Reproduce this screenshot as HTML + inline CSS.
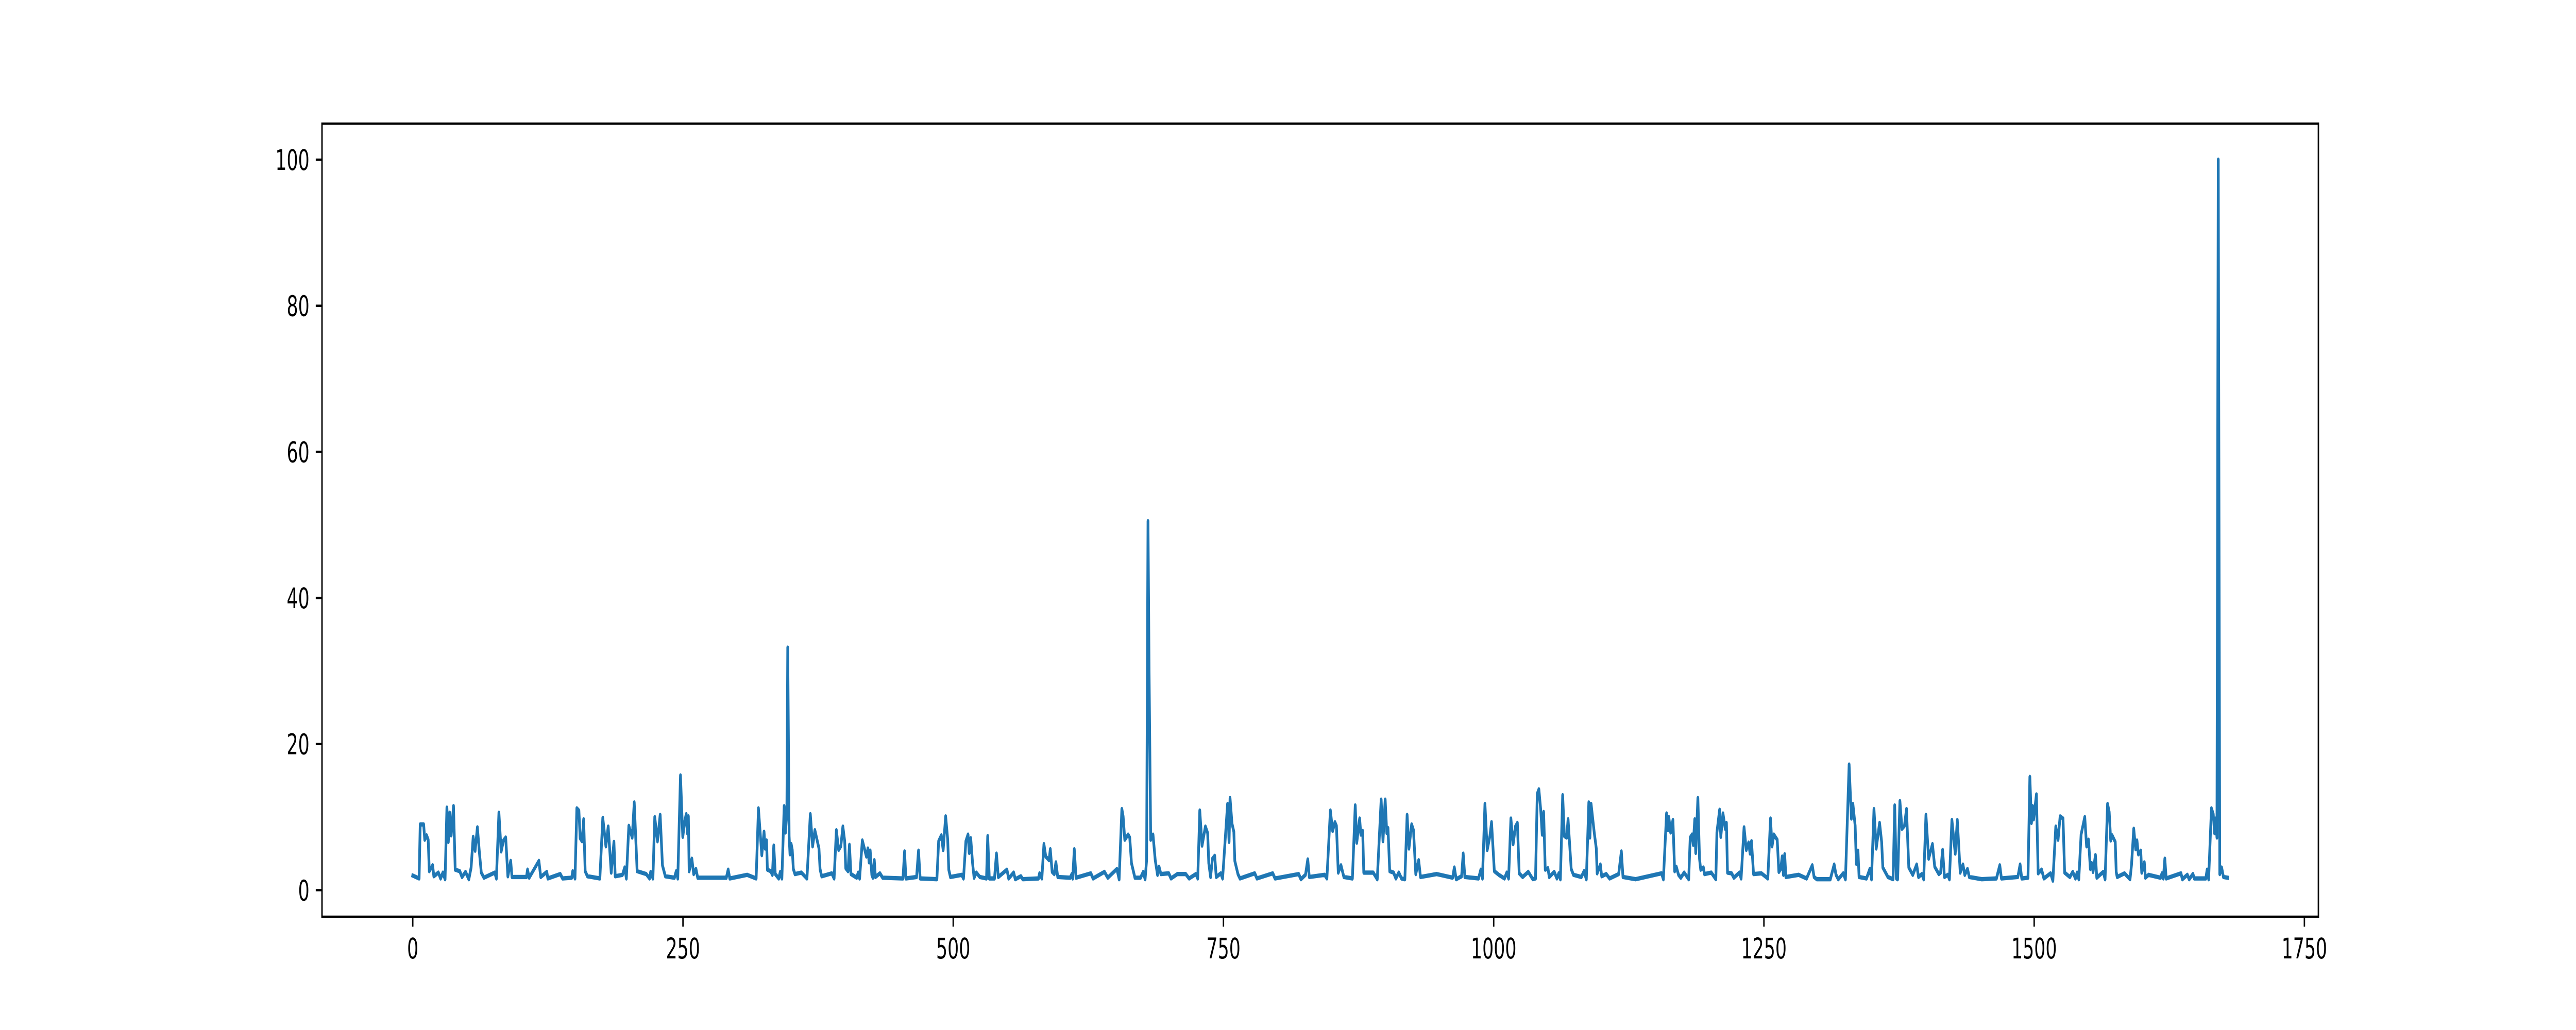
<!DOCTYPE html>
<html>
<head>
<meta charset="utf-8">
<style>
html,body{margin:0;padding:0;background:#fff;overflow:hidden;width:100%;height:100%;}
svg{display:block;width:100vw;height:100vh;}
text{font-family:"DejaVu Sans","Liberation Sans",sans-serif;font-size:55.6px;fill:#000;}
</style>
</head>
<body>
<svg id="chart" viewBox="0 0 8000 2000" preserveAspectRatio="none" xmlns="http://www.w3.org/2000/svg">
<rect x="0" y="0" width="8000" height="2000" fill="#fff"/>
<g id="plot"></g>
</svg>
<script>
// Series sample indices (x) and values (y)
const idx = [0,5.9,6.9,10.1,11.1,12.8,14.3,15.3,18.4,19.5,23.7,25.8,27.9,29.9,31.6,32.9,34.1,35.6,37.7,39.3,43.5,45.6,48.8,51.9,54.0,55.9,57.7,59.8,61.7,63.4,65.9,75.9,77.4,79.7,81.8,83.9,86.0,88.0,90.6,91.8,105.2,106.2,107.7,116.7,118.4,124.0,125.0,136.5,138.6,147.0,148.0,150.1,151.8,153.7,154.9,156.6,158.1,159.5,161.6,173.1,175.8,178.7,180.8,183.6,186.1,187.3,194.0,196.1,197.6,199.9,203.0,204.9,207.6,211.8,216.0,219.1,220.1,222.2,223.9,226.4,228.9,231.0,233.7,242.1,243.8,245.2,247.7,249.8,251.5,253.0,254.0,255.0,255.7,258.2,259.9,262.0,263.6,290.1,291.8,293.3,
309.3,317.7,319.8,322.9,325.0,326.0,327.3,328.1,331.2,332.7,334.0,335.4,338.6,340.0,341.5,343.6,344.8,346.1,346.9,348.2,349.0,350.1,351.1,352.1,353.6,359.5,364.7,367.8,369.9,372.0,375.8,376.8,378.3,387.7,389.8,391.9,394.0,396.0,397.9,399.6,400.6,402.7,404.0,405.4,410.7,412.1,413.4,415.9,418.0,419.7,421.1,422.2,423.2,424.7,425.7,427.0,428.0,432.2,434.7,453.5,455.0,456.2,466.1,467.9,469.4,484.9,486.5,489.0,490.7,493.0,494.9,495.9,497.4,507.9,509.5,511.7,513.7,514.8,516.2,517.9,519.3,521.4,524.6,530.8,531.9,533.4,538.2,540.0,541.7,549.7,551.3,555.9,557.4,562.6,564.3,578.9,579.9,582.0,583.9,585.6,588.7,589.8,591.5,593.5,595.0,596.7,608.2,609.8,610.5,612.0,613.6,
627.3,629.4,639.9,643.0,651.4,653.5,656.0,657.2,658.7,661.8,663.3,664.9,668.1,673.3,675.8,677.5,678.9,680.2,681.2,682.7,684.8,686.9,689.0,690.4,692.1,699.4,701.5,707.4,715.1,718.2,724.5,726.2,728.1,730.2,733.3,735.4,736.4,738.1,739.8,741.9,743.3,747.5,749.2,753.8,755.2,756.1,757.9,759.6,760.5,763.4,765.3,778.9,781.0,795.6,797.7,819.6,821.7,825.9,828.0,829.4,843.6,845.7,848.9,851.0,853.1,854.5,856.2,858.7,861.4,869.3,871.9,873.3,876.0,877.1,878.8,879.8,888.6,892.3,895.9,897.6,899.6,901.1,902.2,903.8,907.4,909.5,912.2,914.7,917.8,919.9,921.6,924.1,925.8,927.9,
930.6,932.3,947.3,962.0,963.6,965.3,970.3,971.8,973.3,986.0,988.1,989.6,991.9,994.0,996.5,998.0,1000.6,1004.8,1010.0,1012.1,1013.8,1015.9,1018.0,1020.1,1021.9,1023.6,1026.8,1032.0,1036.2,1038.7,1040.3,1041.8,1043.5,1044.9,1046.2,1047.7,1050.2,1051.4,1056.0,1058.5,1060.2,1061.7,1063.8,1065.4,1067.5,1068.8,1071.7,1073.8,1081.1,1083.6,1085.7,1088.0,1089.0,1090.1,1093.0,1094.9,1095.7,1098.7,1099.9,1104.1,1107.2,1115.6,1118.1,1119.6,1131.3,1149.0,1155.3,1157.0,1159.9,1161.2,1162.0,1163.7,1165.8,1167.4,1168.9,1171.0,1173.1,1176.2,1180.4,1181.8,1183.5,1184.6,1186.0,1186.9,1188.9,1190.4,1191.5,1194.0,1195.0,1201.3,1205.5,1206.5,1209.0,1210.1,1212.1,1214.2,1215.3,1216.3,1220.1,1222.2,1227.4,1228.9,1231.6,1233.7,1235.8,1237.2,1238.5,1240.4,
1247.7,1253.6,1256.1,1257.5,1259.2,1262.3,1263.8,1265.5,1266.9,1268.0,1269.2,1270.3,1282.2,1289.5,1294.7,1296.4,1298.9,1311.4,1315.0,1316.7,1318.8,1323.4,1325.4,1328.8,1330.9,1332.3,1334.4,1335.5,1337.0,1338.0,1344.9,1348.0,1349.5,1351.8,1353.9,1357.0,1358.9,1360.0,1364.7,1369.5,1371.0,1372.5,1373.7,1375.8,1377.7,1380.0,1381.9,1384.0,1387.7,1391.3,1393.0,1396.1,1397.8,1399.9,1402.4,1405.9,1408.0,1411.8,1413.4,1415.3,1417.0,1420.1,1421.6,1423.9,1427.0,1428.9,1431.6,1434.1,1435.8,1438.3,1440.0,1451.5,1465.1,1468.2,1469.7,1484.9,1487.0,1488.5,1494.3,1496.0,1497.5,1498.5,1499.5,1502.1,1503.7,1506.9,1509.0,1515.2,1517.3,1520.0,1522.1,1524.0,1526.7,1528.2,1533.0,1535.7,1538.2,1539.7,1541.3,
1543.4,1546.8,1548.5,1550.3,1552.0,1553.2,1554.5,1556.7,1557.9,1563.9,1565.6,1567.9,1569.4,1570.8,1572.1,1575.0,1575.9,1576.8,1583.6,1588.7,1590.1,1592.1,1593.9,1595.1,1596.4,1598.6,1599.5,1601.9,1602.9,1605.8,1616.9,1618.3,1619.5,1620.9,1622.1,1635.8,1637.1,1641.7,1643.4,1646.9,1648.1,1658.8,1660.0,1661.4,1664.0,1665.7,1666.9,1667.9,1669.1,1670.3,1671.7,1673.4,1675.1,1679];
const vals = [2.0,1.6,9.0,9.0,6.9,7.5,6.9,2.6,3.4,1.9,2.4,1.6,2.4,1.5,11.3,6.6,10.6,7.5,11.5,2.8,2.6,1.8,2.5,1.5,3.1,7.3,5.4,8.6,5.1,2.4,1.7,2.4,1.6,10.6,5.3,6.8,7.2,1.9,4.0,1.8,1.8,2.8,1.7,4.0,1.8,2.5,1.6,2.2,1.6,1.7,2.6,1.6,11.2,10.9,7.1,6.7,9.7,2.6,1.9,1.6,9.9,6.0,8.7,2.4,6.6,1.9,2.1,3.1,1.6,8.8,7.2,12.0,2.6,2.4,2.2,1.6,2.5,1.6,10.0,6.7,10.3,3.4,1.9,1.7,2.6,1.6,15.7,7.3,9.3,10.4,7.8,10.1,2.6,4.3,2.2,2.9,1.7,1.7,2.8,1.6,
2.1,1.6,11.2,4.8,8.0,5.7,6.8,2.8,2.6,2.1,6.1,2.2,1.6,2.5,1.6,11.5,7.9,10.7,33.2,7.4,4.9,6.3,5.5,2.9,2.2,2.4,1.6,10.4,6.0,8.2,5.7,2.9,1.9,2.3,1.6,8.2,5.5,6.0,8.7,6.7,3.0,2.6,6.2,2.2,1.7,2.4,1.6,6.8,5.6,4.6,5.7,3.8,5.4,2.1,1.7,4.1,1.8,2.3,1.7,1.6,5.3,1.6,1.8,5.4,1.6,1.5,6.7,7.5,5.5,10.1,6.9,2.8,1.8,2.1,1.6,6.7,7.6,5.1,7.1,3.7,1.7,2.4,1.8,1.6,7.4,1.6,1.6,5.0,1.8,2.8,1.6,2.4,1.5,1.9,1.5,1.6,2.3,1.6,6.3,4.6,4.1,5.6,2.5,2.2,3.8,1.8,1.7,2.2,1.6,5.6,1.7,
2.3,1.6,2.5,1.7,2.9,1.5,11.1,10.1,6.9,7.6,7.2,3.7,1.7,1.7,2.5,1.5,4.1,50.5,30.0,6.9,7.6,4.1,2.1,3.2,2.2,2.3,1.6,2.2,2.2,1.6,2.2,1.6,10.9,6.1,8.7,7.8,3.7,1.8,4.3,4.7,1.8,2.3,1.6,11.8,6.6,12.6,9.1,8.0,4.0,2.2,1.6,2.3,1.6,2.3,1.6,2.2,1.5,2.1,4.2,1.8,2.1,1.6,10.9,8.1,9.3,8.8,2.4,3.4,1.8,1.6,11.6,6.5,9.8,7.6,8.1,2.4,2.4,1.5,12.4,6.7,12.4,7.8,8.5,2.6,2.4,1.6,2.4,1.6,1.5,10.3,5.7,9.0,8.2,2.2,
4.1,1.8,2.2,1.7,3.1,1.5,1.9,5.0,1.8,1.6,2.8,1.6,11.8,5.5,7.4,9.3,2.6,2.1,1.6,2.4,1.6,9.8,6.3,8.7,9.2,2.3,1.8,2.5,1.5,1.6,13.2,13.8,11.0,7.6,10.7,2.8,3.0,1.8,2.5,1.6,2.3,1.5,13.0,7.4,7.2,9.7,2.9,2.1,1.8,2.6,1.5,12.0,7.2,11.8,7.9,5.7,2.3,3.5,1.9,2.2,1.6,2.2,5.3,1.8,1.5,2.1,2.3,1.5,10.5,8.2,10.0,7.9,9.6,2.6,3.2,2.1,1.7,2.4,1.5,7.2,7.6,6.2,9.7,5.1,12.6,4.3,2.8,3.1,2.2,2.4,1.5,7.9,11.0,7.3,10.5,8.4,9.2,2.4,2.3,1.7,2.4,1.6,8.6,5.5,6.5,5.0,6.7,2.2,
2.3,1.6,9.8,6.0,7.6,6.9,2.5,2.9,4.6,2.1,4.9,1.8,2.1,1.6,3.4,1.8,1.5,1.5,3.5,2.1,1.5,2.3,1.5,17.2,9.8,11.8,8.8,3.6,5.4,1.8,1.6,2.9,1.5,11.1,5.7,9.2,6.6,3.1,1.8,1.5,11.6,1.6,1.5,12.2,8.4,8.8,11.1,3.1,2.1,3.5,1.8,2.2,1.5,10.3,4.3,6.3,3.2,2.2,2.4,5.5,1.8,2.1,1.5,9.6,5.0,9.6,2.4,3.5,2.1,2.9,1.8,1.5,1.6,3.4,1.6,1.8,3.5,1.6,1.7,15.5,9.2,11.5,9.7,13.1,2.3,2.8,1.6,2.3,1.3,8.7,6.9,10.1,9.8,2.4,1.8,2.5,1.6,2.4,1.5,
7.6,10.0,6.0,6.9,2.9,3.7,2.5,4.8,1.7,2.5,1.5,11.8,10.7,6.8,7.5,6.6,2.5,1.8,2.3,1.5,3.5,8.4,5.6,6.8,4.9,5.4,2.4,3.8,1.7,2.1,1.7,2.3,1.6,4.3,1.6,2.3,1.5,2.1,1.5,2.2,1.6,1.6,2.8,1.5,11.2,10.4,7.8,9.8,7.2,100.0,2.2,3.1,1.8,1.7];
const xTicks = [0,250,500,750,1000,1250,1500,1750];
const yTicks = [0,20,40,60,80,100];
</script>
<script>
(function(){
  const NS = 'http://www.w3.org/2000/svg';
  const g = document.getElementById('plot');
  const L = 1000, R = 7200, T = 240, B = 1780;
  const minX = Math.min(...idx), maxX = Math.max(...idx);
  const minY = Math.min(...vals), maxY = Math.max(...vals);
  const x0 = minX - 0.05*(maxX-minX), x1 = maxX + 0.05*(maxX-minX);
  const y0 = minY - 0.05*(maxY-minY), y1 = maxY + 0.05*(maxY-minY);
  function sx(v){ return L + (v - x0) / (x1 - x0) * (R - L); }
  function sy(v){ return B - (v - y0) / (y1 - y0) * (B - T); }

  let d = '';
  for (let k = 0; k < idx.length; k++) {
    d += (k ? 'L' : 'M') + sx(idx[k]).toFixed(1) + ' ' + sy(vals[k]).toFixed(1);
  }
  const path = document.createElementNS(NS, 'path');
  path.setAttribute('d', d);
  path.setAttribute('fill', 'none');
  path.setAttribute('stroke', '#1f77b4');
  path.setAttribute('stroke-width', '8.33');
  path.setAttribute('stroke-linejoin', 'round');
  path.setAttribute('stroke-linecap', 'square');
  
  
  g.appendChild(path);

  const frame = document.createElementNS(NS, 'rect');
  frame.setAttribute('x', L); frame.setAttribute('y', T);
  frame.setAttribute('width', R - L); frame.setAttribute('height', B - T);
  frame.setAttribute('fill', 'none'); frame.setAttribute('stroke', '#000');
  frame.setAttribute('stroke-width', '4.44');
  
  
  g.appendChild(frame);

  xTicks.forEach(function(t){
    const x = sx(t);
    const ln = document.createElementNS(NS, 'line');
    ln.setAttribute('x1', x); ln.setAttribute('x2', x);
    ln.setAttribute('y1', B); ln.setAttribute('y2', B + 19.4);
    ln.setAttribute('stroke', '#000'); ln.setAttribute('stroke-width', '4.44');
    
    
    g.appendChild(ln);
    const tx = document.createElementNS(NS, 'text');
    tx.setAttribute('x', x); tx.setAttribute('y', B + 19.4 + 19.4 + 42);
    tx.setAttribute('text-anchor', 'middle');
    tx.textContent = String(t);
    
    
    g.appendChild(tx);
  });
  yTicks.forEach(function(t){
    const y = sy(t);
    const ln = document.createElementNS(NS, 'line');
    ln.setAttribute('x1', L - 19.4); ln.setAttribute('x2', L);
    ln.setAttribute('y1', y); ln.setAttribute('y2', y);
    ln.setAttribute('stroke', '#000'); ln.setAttribute('stroke-width', '4.44');
    
    
    g.appendChild(ln);
    const tx = document.createElementNS(NS, 'text');
    tx.setAttribute('x', L - 19.4 - 19.4); tx.setAttribute('y', y + 20);
    tx.setAttribute('text-anchor', 'end');
    tx.textContent = String(t);
    
    
    g.appendChild(tx);
  });
})();
</script>
</body>
</html>
